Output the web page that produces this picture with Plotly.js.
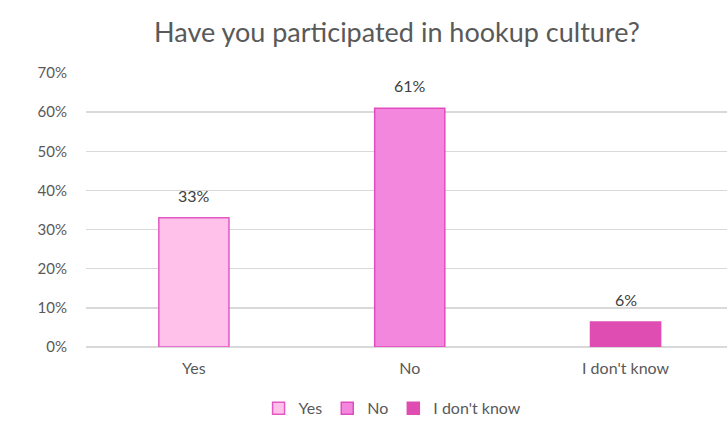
<!DOCTYPE html>
<html>
<head>
<meta charset="utf-8">
<script src="https://cdn.plot.ly/plotly-3.0.1.min.js"></script>
<style>html,body{margin:0;padding:0;background:#fff;}#chart{width:727px;height:428px;}</style>
</head>
<body>
<div id="chart"></div>
<script>
const categories = ["Yes", "No", "I don't know"];
const values = [0.33, 0.61, 0.064];
const labels = ["33%", "61%", "6%"];
const fillColors = ["#FFC1EA", "#F287DD", "#E04DB2"];
const lineColors = ["#E458C3", "#E04DBE", "#E04DB2"];
const yTicks = [0, 0.1, 0.2, 0.3, 0.4, 0.5, 0.6, 0.7];

const font = "Lato, 'Noto Sans', sans-serif";
const traces = categories.map((c, i) => ({
  type: "bar",
  name: c,
  x: [c],
  y: [values[i]],
  width: 0.325,
  marker: {color: fillColors[i], line: {color: lineColors[i], width: 1.5}},
  hoverinfo: "x+y"
}));

const annotations = categories.map((c, i) => ({
  x: c, y: values[i], xref: "x", yref: "y",
  text: labels[i], showarrow: false, yanchor: "bottom", yshift: 11,
  font: {size: 16, color: "#404040", family: font}
}));

const layout = {
  width: 727, height: 428,
  margin: {l: 86, r: 0, t: 73, b: 81},
  paper_bgcolor: "#fff", plot_bgcolor: "#fff",
  barmode: "overlay",
  font: {family: font, color: "#595959"},
  title: {text: "Have you participated in hookup culture?", font: {size: 27, color: "#595959", family: font},
          x: 0.546, xanchor: "center", xref: "container", y: 0.925, yanchor: "middle", yref: "container"},
  xaxis: {type: "category", categoryorder: "array", categoryarray: categories, range: [-0.5, 2.47],
          showgrid: false, showline: false, zeroline: false, ticks: "", ticklabelstandoff: 10,
          tickfont: {size: 16, color: "#595959"}},
  yaxis: {range: [0, 0.7], tickvals: yTicks, tickformat: ".0%", showgrid: true, gridcolor: "#D9D9D9", gridwidth: 1.3,
          zeroline: true, zerolinecolor: "#D9D9D9", zerolinewidth: 1.3, showline: false, ticks: "", ticklabelstandoff: 18,
          tickfont: {size: 15, color: "#595959"}},
  annotations: annotations,
  showlegend: true,
  legend: {orientation: "h", x: 0.54, xanchor: "center", xref: "container", y: 0.046, yanchor: "middle", yref: "container",
           font: {size: 16, color: "#595959"}, itemwidth: 30, traceorder: "normal"}
};

Plotly.newPlot("chart", traces, layout, {displayModeBar: false, staticPlot: true});
</script>
</body>
</html>
